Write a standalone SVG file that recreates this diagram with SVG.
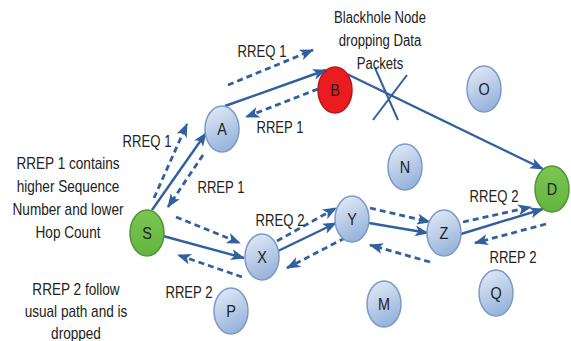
<svg xmlns="http://www.w3.org/2000/svg" width="571" height="341" viewBox="0 0 571 341">
  <defs>
    <linearGradient id="blueFill" x1="0" y1="0" x2="0.4" y2="1">
      <stop offset="0" stop-color="#e6eef8"/>
      <stop offset="1" stop-color="#9ab5dc"/>
    </linearGradient>
    <linearGradient id="greenFill" x1="0" y1="0" x2="0" y2="1">
      <stop offset="0" stop-color="#7cc653"/>
      <stop offset="1" stop-color="#62b53f"/>
    </linearGradient>
    <marker id="arrow" viewBox="0 0 14 11" refX="13" refY="5.5" markerWidth="14" markerHeight="11" markerUnits="userSpaceOnUse" orient="auto">
      <path d="M0,0 L14,5.5 L0,11 L3.5,5.5 Z" fill="#30609e"/>
    </marker>
  </defs>
  <style>
    .node { fill: url(#blueFill); stroke: #7b9ac6; stroke-width: 1.5; }
    .green { fill: url(#greenFill); stroke: #4f9634; stroke-width: 1.5; }
    .red { fill: #ea1c1f; stroke: #b5171a; stroke-width: 1.5; }
    .nlabel { font-family: "Liberation Sans", Arial, sans-serif; font-size: 17px; fill: #222; text-anchor: middle; }
    .txt { font-family: "Liberation Sans", Arial, sans-serif; font-size: 16px; fill: #222; text-anchor: middle; }
    .solid { fill: none; stroke: #30609e; stroke-width: 2.4; marker-end: url(#arrow); }
    .dash { fill: none; stroke: #30609e; stroke-width: 2.8; stroke-dasharray: 6 4; marker-end: url(#arrow); }
    .cross { fill: none; stroke: #30609e; stroke-width: 2; }
  </style>

  <rect width="571" height="341" fill="#ffffff"/>

  <!-- connectors -->
  <g id="connectors">
    <!-- data path S-A-B-D -->
    <path class="solid" d="M152,210 L206,133"/>
    <path class="solid" d="M225,106 L326,70"/>
    <path class="solid" d="M347,74 L543,169"/>
    <!-- path S-X-Y-Z-D -->
    <path class="solid" d="M163,236 L244,258"/>
    <path class="solid" d="M278,251 L336,223"/>
    <path class="solid" d="M369,223 L428,233"/>
    <path class="solid" d="M461,234 L543,209"/>
    <!-- route requests / replies -->
    <path class="dash" d="M228,85 L313,50"/>
    <path class="dash" d="M318,89 L246,117"/>
    <path class="dash" d="M154,198 L187,124"/>
    <path class="dash" d="M203,155 L168,207"/>
    <path class="dash" d="M176,217 L240,243"/>
    <path class="dash" d="M242,277 L178,255"/>
    <path class="dash" d="M277,241 L336,208"/>
    <path class="dash" d="M345,238 L287,268"/>
    <path class="dash" d="M370,208 L430,222"/>
    <path class="dash" d="M430,262 L370,245"/>
    <path class="dash" d="M463,222 L531,207"/>
    <path class="dash" d="M546,224 L475,243"/>
    <!-- blocked data -->
    <path class="cross" d="M375,68 L398,120 M407,75 L373,120"/>
  </g>

  <!-- nodes -->
  <g id="node-S"><ellipse class="green" cx="147" cy="233" rx="17" ry="23"/><text class="nlabel" transform="translate(147,239) scale(0.85,1)">S</text></g>
  <g id="node-A"><ellipse class="node" cx="222" cy="129" rx="17" ry="23"/><text class="nlabel" transform="translate(222,135) scale(0.85,1)">A</text></g>
  <g id="node-B"><ellipse class="red" cx="335" cy="90" rx="17" ry="23"/><text class="nlabel" transform="translate(335,96) scale(0.85,1)">B</text></g>
  <g id="node-O"><ellipse class="node" cx="484" cy="89" rx="17" ry="23"/><text class="nlabel" transform="translate(484,95) scale(0.85,1)">O</text></g>
  <g id="node-N"><ellipse class="node" cx="405" cy="167" rx="17" ry="23"/><text class="nlabel" transform="translate(405,173) scale(0.85,1)">N</text></g>
  <g id="node-D"><ellipse class="green" cx="552" cy="189" rx="17" ry="23"/><text class="nlabel" transform="translate(552,195) scale(0.85,1)">D</text></g>
  <g id="node-X"><ellipse class="node" cx="262" cy="257" rx="17" ry="23"/><text class="nlabel" transform="translate(262,263) scale(0.85,1)">X</text></g>
  <g id="node-Y"><ellipse class="node" cx="352" cy="219" rx="17" ry="23"/><text class="nlabel" transform="translate(352,225) scale(0.85,1)">Y</text></g>
  <g id="node-Z"><ellipse class="node" cx="444" cy="233" rx="17" ry="23"/><text class="nlabel" transform="translate(444,239) scale(0.85,1)">Z</text></g>
  <g id="node-P"><ellipse class="node" cx="231" cy="311" rx="17" ry="23"/><text class="nlabel" transform="translate(231,317) scale(0.85,1)">P</text></g>
  <g id="node-M"><ellipse class="node" cx="384" cy="304" rx="17" ry="23"/><text class="nlabel" transform="translate(384,310) scale(0.85,1)">M</text></g>
  <g id="node-Q"><ellipse class="node" cx="496" cy="293" rx="17" ry="23"/><text class="nlabel" transform="translate(496,299) scale(0.85,1)">Q</text></g>

  <!-- message labels -->
  <g id="labels">
    <text class="txt" transform="translate(262,57) scale(0.82,1)">RREQ 1</text>
    <text class="txt" transform="translate(280,133) scale(0.82,1)">RREP 1</text>
    <text class="txt" transform="translate(147,147) scale(0.82,1)">RREQ 1</text>
    <text class="txt" transform="translate(221,193) scale(0.82,1)">RREP 1</text>
    <text class="txt" transform="translate(280,226) scale(0.82,1)">RREQ 2</text>
    <text class="txt" transform="translate(494,202) scale(0.82,1)">RREQ 2</text>
    <text class="txt" transform="translate(513,263) scale(0.82,1)">RREP 2</text>
    <text class="txt" transform="translate(189,298) scale(0.82,1)">RREP 2</text>
  </g>

  <!-- notes -->
  <g id="note-blackhole">
    <text class="txt" transform="translate(380,23) scale(0.82,1)">Blackhole Node</text>
    <text class="txt" transform="translate(380,46) scale(0.82,1)">dropping Data</text>
    <text class="txt" transform="translate(380,69) scale(0.82,1)">Packets</text>
  </g>
  <g id="note-rrep1">
    <text class="txt" transform="translate(68,169) scale(0.85,1)">RREP 1 contains</text>
    <text class="txt" transform="translate(68,192) scale(0.85,1)">higher Sequence</text>
    <text class="txt" transform="translate(68,215) scale(0.85,1)">Number and lower</text>
    <text class="txt" transform="translate(68,238) scale(0.85,1)">Hop Count</text>
  </g>
  <g id="note-rrep2">
    <text class="txt" transform="translate(76,295) scale(0.85,1)">RREP 2 follow</text>
    <text class="txt" transform="translate(76,317) scale(0.85,1)">usual path and is</text>
    <text class="txt" transform="translate(76,339) scale(0.85,1)">dropped</text>
  </g>
</svg>
